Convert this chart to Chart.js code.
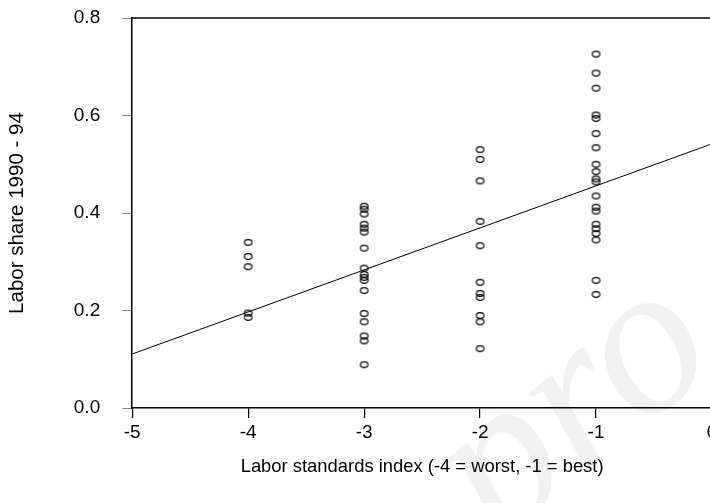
<!DOCTYPE html>
<html>
<head>
<meta charset="utf-8">
<script src="https://cdn.jsdelivr.net/npm/chart.js@4"></script>
<style>
html,body{margin:0;padding:0;overflow:hidden;background:#fff;width:710px;height:503px;}
canvas{display:block;}
</style>
</head>
<body>
<canvas id="c" width="740" height="503"></canvas>
<script>
// ---- data ----
const xCategories = [-4, -3, -2, -1];
const valsM4 = [0.340, 0.311, 0.290, 0.195, 0.186];
const valsM3 = [0.414, 0.408, 0.398, 0.377, 0.369, 0.361, 0.328, 0.287, 0.274, 0.268, 0.262, 0.241, 0.194, 0.177, 0.148, 0.138, 0.089];
const valsM2 = [0.530, 0.510, 0.466, 0.383, 0.333, 0.258, 0.235, 0.227, 0.190, 0.177, 0.122];
const valsM1 = [0.726, 0.687, 0.656, 0.601, 0.594, 0.563, 0.534, 0.500, 0.485, 0.470, 0.464, 0.435, 0.412, 0.404, 0.377, 0.368, 0.358, 0.345, 0.262, 0.233];
const fitIntercept = 0.542;   // fitted value at x = 0
const fitSlope = 0.0862;      // per index unit
const fitRange = [-5, 0];
const xTicks = [-5, -4, -3, -2, -1, 0];
const yTicks = [0.0, 0.2, 0.4, 0.6, 0.8];
const xTitle = 'Labor standards index (-4 = worst, -1 = best)';
const yTitle = 'Labor share 1990 - 94';

const groups = [valsM4, valsM3, valsM2, valsM1];
const scatterPts = [];
groups.forEach((g, i) => g.forEach(v => scatterPts.push({x: xCategories[i], y: v})));
const fitPts = fitRange.map(x => ({x: x, y: fitIntercept + fitSlope * x}));

// open ellipse marker
const mk = document.createElement('canvas');
mk.width = 11; mk.height = 9;
(function(){
  const g = mk.getContext('2d');
  g.strokeStyle = '#000'; g.lineWidth = 1.15;
  g.beginPath(); g.ellipse(5.5, 4.5, 3.8, 2.8, 0, 0, Math.PI * 2); g.stroke();
})();

const FONT = 'Liberation Sans, Arial, sans-serif';

const frameTop = {
  id: 'frameTop',
  beforeDraw(chart) {
    const {ctx} = chart;
    ctx.save();
    ctx.translate(575, 410);
    ctx.rotate(-0.68);
    ctx.font = 'italic 215px Liberation Serif';
    ctx.fillStyle = 'rgba(0,0,0,0.055)';
    ctx.textAlign = 'center';
    ctx.textBaseline = 'middle';
    ctx.fillText('pro', 0, 0);
    ctx.restore();
  },
  afterDraw(chart) {
    const {ctx, chartArea: a} = chart;
    ctx.save();
    ctx.strokeStyle = '#000';
    ctx.lineWidth = 1.5;
    ctx.beginPath(); ctx.moveTo(a.left, a.top); ctx.lineTo(a.right, a.top); ctx.stroke();
    ctx.restore();
  }
};

new Chart(document.getElementById('c'), {
  type: 'scatter',
  data: {
    datasets: [
      {
        label: 'fit', type: 'line', data: fitPts,
        borderColor: '#000', borderWidth: 1, pointRadius: 0, fill: false, order: 2
      },
      {
        label: 'countries', data: scatterPts,
        pointStyle: mk, pointRadius: 4, order: 1
      }
    ]
  },
  options: {
    responsive: false,
    animation: false,
    layout: {padding: {top: 18, right: 28, bottom: 0, left: 0}},
    plugins: {legend: {display: false}, tooltip: {enabled: false}},
    scales: {
      x: {
        type: 'linear', min: -5, max: 0,
        afterBuildTicks: s => { s.ticks = xTicks.map(v => ({value: v})); },
        ticks: {color: '#000', font: {family: FONT, size: 19}, padding: 3, maxRotation: 0,
                callback: v => String(v)},
        grid: {drawOnChartArea: false, drawTicks: true, tickLength: 10, color: '#000', lineWidth: 1.2},
        border: {display: true, color: '#000', width: 1.5},
        title: {display: true, text: xTitle, color: '#000', font: {family: FONT, size: 18.4},
                padding: {top: 9, bottom: 25}}
      },
      y: {
        type: 'linear', min: 0, max: 0.8,
        afterBuildTicks: s => { s.ticks = yTicks.map(v => ({value: v})); },
        afterFit: s => { s.paddingTop = 0; s.paddingBottom = 0; },
        ticks: {color: '#000', font: {family: FONT, size: 19}, padding: 22,
                callback: v => Number(v).toFixed(1)},
        grid: {drawOnChartArea: false, drawTicks: true, tickLength: 10, color: '#888', lineWidth: 1},
        border: {display: true, color: '#000', width: 1.5},
        title: {display: true, text: yTitle, color: '#000', font: {family: FONT, size: 20.5},
                padding: {top: 4.7, bottom: 22.5}}
      }
    }
  },
  plugins: [frameTop]
});
</script>
</body>
</html>
